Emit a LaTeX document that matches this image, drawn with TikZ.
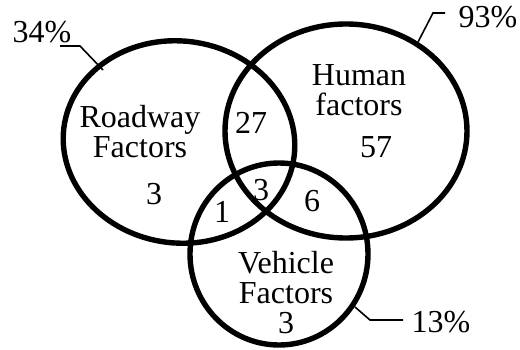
\documentclass[tikz,border=0pt]{standalone}
\usepackage{fontspec}
\setmainfont{Liberation Serif}
\usetikzlibrary{shapes.geometric}
\begin{document}
\begin{tikzpicture}[x=1pt,y=-1pt,
  set/.style={draw, ellipse, line width=5.4pt, inner sep=0pt},
  lbl/.style={font=\fontsize{32}{30}\selectfont, align=center, inner sep=0pt},
  leader/.style={line width=1.6pt}]
\useasboundingbox (0,0) rectangle (520,349);
\fill[white] (0,0) rectangle (520,349);
% the three sets
\node[set, rotate=-7, minimum width=232pt, minimum height=202pt] (road)  at (179,142) {};
\node[set, minimum width=242pt, minimum height=214pt] (human) at (346,131) {};
\node[set, minimum width=178pt, minimum height=182pt] (veh)   at (279,254) {};
% set names
\node[lbl] (roadname)  at (140,132) {Roadway\\Factors};
\node[lbl] (humanname) at (359,90)  {Human\\factors};
\node[lbl] (vehname)   at (286,293) {Vehicle\\Factors\\3};
% region counts
\node[lbl] (n27) at (251,123) {27};
\node[lbl] (n57) at (376,147) {57};
\node[lbl] (nr3) at (154,194) {3};
\node[lbl] (nc3) at (261,190) {3};
\node[lbl] (n1)  at (222,212) {1};
\node[lbl] (n6)  at (312,201) {6};
% percentages with leaders
\node[lbl] (p34) at (42,32)  {34\%};
\node[lbl] (p93) at (488,17) {93\%};
\node[lbl] (p13) at (441,322) {13\%};
\coordinate (a34) at (60,46);
\coordinate (k34) at (80,46);
\coordinate (e34) at (103,70);
\coordinate (a93) at (445,13);
\coordinate (k93) at (433,13);
\coordinate (e93) at (418,42);
\coordinate (a13) at (403,320);
\coordinate (k13) at (370,320);
\coordinate (e13) at (355,307);
\draw[leader] (a34) -- (k34) -- (e34);
\draw[leader] (a93) -- (k93) -- (e93);
\draw[leader] (a13) -- (k13) -- (e13);
\end{tikzpicture}
\end{document}
